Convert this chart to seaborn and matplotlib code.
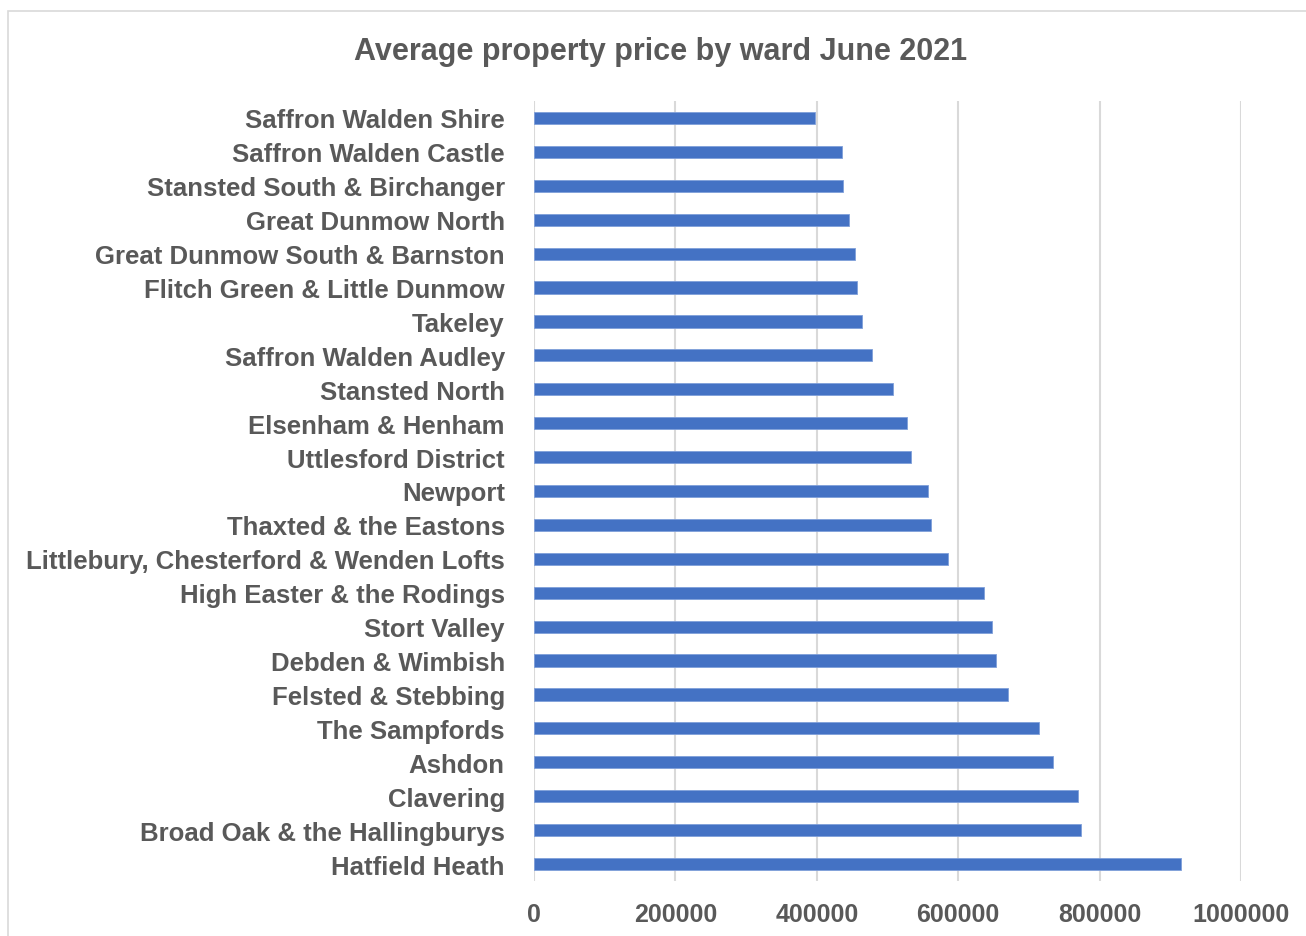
import matplotlib
matplotlib.use("Agg")
import matplotlib.pyplot as plt
import seaborn as sns
import pandas as pd
from matplotlib.patches import Rectangle

wards = [
    "Saffron Walden Shire", "Saffron Walden Castle", "Stansted South & Birchanger",
    "Great Dunmow North", "Great Dunmow South & Barnston", "Flitch Green & Little Dunmow",
    "Takeley", "Saffron Walden Audley", "Stansted North", "Elsenham & Henham",
    "Uttlesford District", "Newport", "Thaxted & the Eastons",
    "Littlebury, Chesterford & Wenden Lofts", "High Easter & the Rodings",
    "Stort Valley", "Debden & Wimbish", "Felsted & Stebbing", "The Sampfords",
    "Ashdon", "Clavering", "Broad Oak & the Hallingburys", "Hatfield Heath",
]
prices = [
    397000, 436000, 437500, 445000, 454500, 457000,
    463500, 477500, 507500, 528000,
    533500, 557500, 561000,
    586000, 636500,
    648500, 653500, 670000, 714000,
    733500, 769000, 774000, 914500,
]
x_ticks = [0, 200000, 400000, 600000, 800000, 1000000]
title = "Average property price by ward June 2021"

df = pd.DataFrame({"ward": wards, "price": prices})

sns.set_theme(style="white")
plt.rcParams["font.family"] = ["Liberation Sans", "DejaVu Sans"]
text_color = "#595959"

W, H = 1306, 937
fig = plt.figure(figsize=(W / 100, H / 100), dpi=100)
ax = fig.add_axes([534 / W, 1 - 882 / H, (1241 - 534) / W, (882 - 102) / H])

sns.barplot(data=df, y="ward", x="price", orient="h", color="#4472C4",
            saturation=1, width=0.36, ax=ax, edgecolor="#7f9fd9", linewidth=0.6)

ax.set_xlim(0, 1000000)
ax.set_ylim(len(wards) - 0.5, -0.5)
ax.set_xticks(x_ticks)
ax.set_xticklabels([str(v) for v in x_ticks])
ax.grid(axis="x", color="#D9D9D9", linewidth=1.5)
ax.set_axisbelow(True)
for s in ax.spines.values():
    s.set_visible(False)
ax.tick_params(axis="both", length=0)
ax.tick_params(axis="x", pad=15, labelsize=18, labelcolor=text_color)
ax.tick_params(axis="y", pad=21, labelsize=18.5, labelcolor=text_color)
for lab in ax.get_xticklabels() + ax.get_yticklabels():
    lab.set_fontweight("bold")
ax.set_xlabel("")
ax.set_ylabel("")

fig.text(661 / W, 1 - 52 / H, title, ha="center", va="center",
         fontsize=22, fontweight="bold", color=text_color)

fig.patches.append(Rectangle((8 / W, -0.05), 1.2, 1 - 12 / H + 0.05,
                             transform=fig.transFigure, fill=False,
                             edgecolor="#D9D9D9", linewidth=1.2))

fig.savefig("out.png", dpi=100)
